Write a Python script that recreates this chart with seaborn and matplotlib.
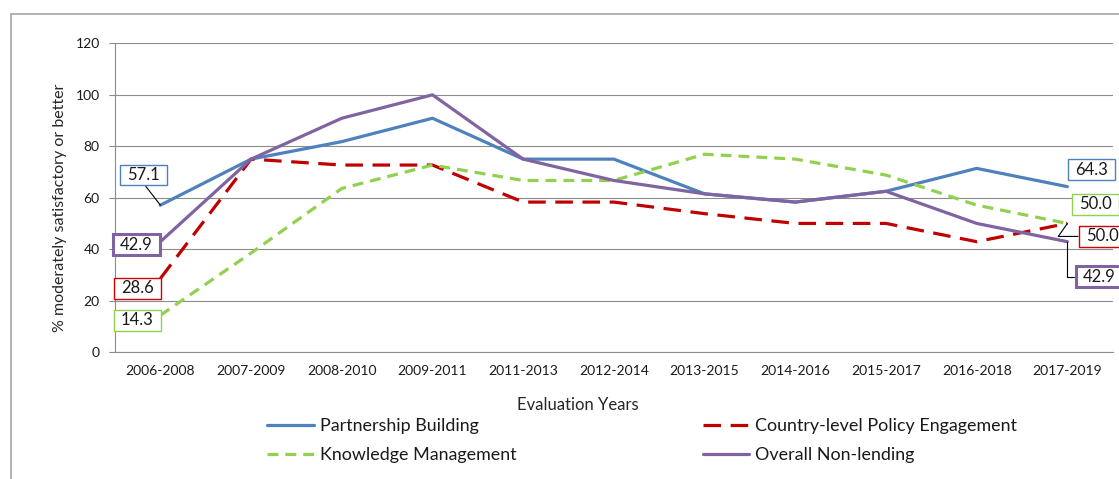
import numpy as np
import pandas as pd
import seaborn as sns
import matplotlib.pyplot as plt
from matplotlib.lines import Line2D
from matplotlib.path import Path

# Chart data
years = ['2006-2008', '2007-2009', '2008-2010', '2009-2011', '2011-2013', '2012-2014',
         '2013-2015', '2014-2016', '2015-2017', '2016-2018', '2017-2019']
partnership = [57.1, 75.0, 81.8, 90.9, 75.0, 75.0, 61.5, 58.3, 62.5, 71.4, 64.3]
policy = [28.6, 75.0, 72.7, 72.7, 58.3, 58.3, 53.8, 50.0, 50.0, 42.9, 50.0]
knowledge = [14.3, 38.5, 63.6, 72.7, 66.7, 66.7, 76.9, 75.0, 68.8, 57.1, 50.0]
overall = [42.9, 75.0, 90.9, 100.0, 75.0, 66.7, 61.5, 58.3, 62.5, 50.0, 42.9]

series_names = ['Partnership Building', 'Country-level Policy Engagement',
                'Knowledge Management', 'Overall Non-lending']
series_values = [partnership, policy, knowledge, overall]

colors = {'Partnership Building': '#4F81BD',
          'Country-level Policy Engagement': '#C00000',
          'Knowledge Management': '#92D050',
          'Overall Non-lending': '#8064A2'}
dashes = {'Partnership Building': '',
          'Country-level Policy Engagement': (5.5, 3.0),
          'Knowledge Management': (3.4, 2.2),
          'Overall Non-lending': ''}
box_edges = {'Partnership Building': ('#4F81BD', 1.0),
             'Country-level Policy Engagement': ('#D40000', 1.0),
             'Knowledge Management': ('#92D050', 1.0),
             'Overall Non-lending': ('#8064A2', 2.2)}

df = pd.DataFrame({
    'year': years * len(series_names),
    'value': np.concatenate(series_values),
    'series': np.repeat(series_names, len(years)),
})

sns.set_style('white')
plt.rcParams['font.family'] = ['Lato', 'DejaVu Sans']
plt.rcParams['text.color'] = '#1a1a1a'

fig = plt.figure(figsize=(11.19, 4.79), dpi=100)
ax = fig.add_axes([0.1028, 0.2651, 0.8916, 0.6443])

sns.lineplot(data=df, x='year', y='value', hue='series', style='series',
             hue_order=series_names, style_order=series_names,
             palette=colors, dashes=dashes, lw=2.3, sort=False,
             legend=False, ax=ax, zorder=3)

# axes look
ax.set_xlim(-0.5, len(years) - 0.5)
ax.set_ylim(0, 120)
ax.set_yticks(range(0, 121, 20))
ax.grid(axis='y', color='#8c8c8c', lw=0.8)
ax.set_axisbelow(True)
for s in ['top', 'right']:
    ax.spines[s].set_visible(False)
for s in ['left', 'bottom']:
    ax.spines[s].set_color('#8c8c8c')
    ax.spines[s].set_linewidth(0.8)

ax.set_xticks(np.arange(-0.5, len(years)), minor=True)
ax.tick_params(axis='x', which='major', length=0, pad=9, labelsize=10, labelcolor='#1a1a1a')
ax.tick_params(axis='x', which='minor', length=4, width=0.8, color='#8c8c8c', direction='out')
ax.tick_params(axis='y', length=4, width=0.8, color='#8c8c8c', pad=7, labelsize=10,
               labelcolor='#1a1a1a', left=True)

ax.set_xlabel('Evaluation Years', fontsize=12)
ax.set_ylabel('% moderately satisfactory or better', fontsize=11.5)
ax.xaxis.label.set_va('center')
ax.yaxis.label.set_va('center')
ax.xaxis.set_label_coords(0.464, -0.172)
ax.yaxis.set_label_coords(-0.0551, 0.468)


# data label boxes with wider horizontal padding
def label_box(x0, y0, width, height, mutation_size):
    px = 0.45 * mutation_size
    py = 0.14 * mutation_size
    return Path([(x0 - px, y0 - py), (x0 + width + px, y0 - py),
                 (x0 + width + px, y0 + height + py), (x0 - px, y0 + height + py),
                 (x0 - px, y0 - py)], closed=True)


label_offsets = {
    ('Partnership Building', 0): (-17, 30, dict(relpos=(0.5, 0.0))),
    ('Overall Non-lending', 0): (-24, -3, None),
    ('Country-level Policy Engagement', 0): (-23, -10, None),
    ('Knowledge Management', 0): (-23, -5, None),
    ('Partnership Building', 10): (24, 17, None),
    ('Knowledge Management', 10): (28, 19, None),
    ('Country-level Policy Engagement', 10): (35, -13,
        dict(relpos=(0.0, 0.5), connectionstyle='angle,angleA=0,angleB=55,rad=0')),
    ('Overall Non-lending', 10): (32, -35,
        dict(relpos=(0.0, 0.5), connectionstyle='angle,angleA=0,angleB=90,rad=0')),
}

for (name, i), (dx, dy, leader) in label_offsets.items():
    v = series_values[series_names.index(name)][i]
    ec, elw = box_edges[name]
    arrow = None
    if leader is not None:
        arrow = dict(arrowstyle='-', color='black', lw=0.8, shrinkA=0, shrinkB=0, **leader)
    ax.annotate(f'{v:.1f}', xy=(i, v), xytext=(dx, dy), textcoords='offset pixels',
                ha='center', va='center', fontsize=12, zorder=5,
                bbox=dict(boxstyle=label_box, fc='white', ec=ec, lw=elw),
                arrowprops=arrow)

# legend
handles = [Line2D([], [], color=colors[n], lw=2.3,
                  dashes=dashes[n] if dashes[n] else (None, None)) for n in series_names]
order = [0, 2, 1, 3]
fig.legend([handles[k] for k in order], [series_names[k] for k in order],
           ncol=2, loc='upper left', bbox_to_anchor=(267 / 1119, 1 - 418 / 479),
           frameon=False, borderpad=0, borderaxespad=0, fontsize=12.9,
           handlelength=2.6, handletextpad=0.34, columnspacing=10.4, labelspacing=0.72)

# outer chart frame (runs off the right and bottom edges)
fig.add_artist(Line2D([11 / 1119, 11 / 1119], [0, 1 - 14 / 479], color='#a6a6a6', lw=1.2))
fig.add_artist(Line2D([11 / 1119, 1], [1 - 14 / 479, 1 - 14 / 479], color='#a6a6a6', lw=1.2))

fig.savefig('out.png', dpi=100)
